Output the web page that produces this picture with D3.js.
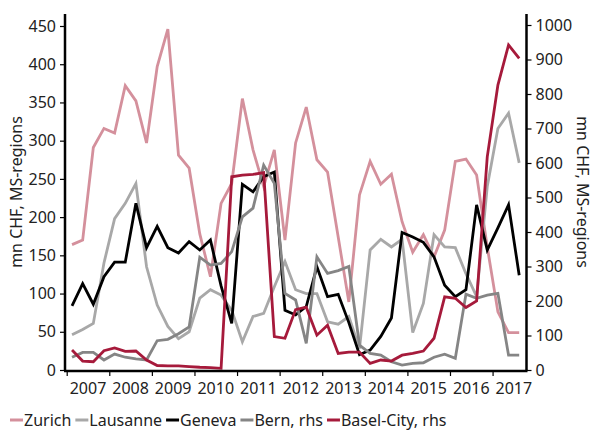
<!DOCTYPE html>
<html>
<head>
<meta charset="utf-8">
<script src="https://cdn.jsdelivr.net/npm/d3@7"></script>
<style>
  body { margin: 0; background: #fff; }
  svg text { font-family: "Noto Sans", sans-serif; font-size: 16px; fill: #222; }
</style>
</head>
<body>
<div id="chart"></div>
<script>
  // quarterly data, 2007Q1 .. 2017Q3
  var startYear = 2007;
  var zurich = [164, 170, 291, 316, 310, 372, 352, 297, 397, 446, 281, 264, 178, 122, 218, 244,
    355, 288, 240, 288, 170, 297, 344, 275, 259, 174, 89, 229, 273, 243, 256, 194,
    154, 177, 148, 183, 273, 276, 255, 161, 76, 49, 49];
  var lausanne = [46, 53, 61, 140, 198, 218, 244, 135, 85, 57, 41, 50, 94, 105, 98, 78,
    37, 70, 74, 109, 142, 105, 100, 100, 63, 60, 70, 28, 157, 171, 161, 171,
    49, 87, 177, 161, 160, 126, 96, 240, 316, 336, 271];
  var geneva = [84, 113, 86, 122, 141, 141, 218, 160, 188, 160, 153, 168, 157, 170, 110, 61,
    243, 233, 253, 259, 78, 72, 83, 135, 96, 99, 62, 20, 26, 44, 68, 180,
    174, 167, 148, 111, 96, 105, 216, 157, 186, 216, 124];
  // rhs
  var bern = [37, 51, 51, 29, 46, 37, 32, 29, 85, 89, 105, 125, 327, 304, 309, 343,
    444, 469, 594, 541, 222, 203, 77, 328, 280, 288, 300, 72, 48, 43, 24, 14,
    19, 21, 37, 46, 34, 220, 208, 217, 222, 43, 43];
  var basel = [58, 26, 24, 56, 64, 54, 55, 29, 13, 12, 12, 10, 8, 7, 5, 560,
    565, 567, 572, 97, 92, 175, 182, 101, 130, 48, 52, 52, 19, 29, 26, 43,
    48, 55, 92, 212, 208, 181, 200, 618, 826, 942, 903];

  var years = d3.range(2007, 2018);
  var leftTicks = d3.range(0, 451, 50);
  var rightTicks = d3.range(0, 1001, 100);

  var series = [
    {name: "Zurich", values: zurich, color: "#d4909c", rhs: false},
    {name: "Lausanne", values: lausanne, color: "#a8a8a8", rhs: false},
    {name: "Geneva", values: geneva, color: "#000000", rhs: false},
    {name: "Bern, rhs", values: bern, color: "#858585", rhs: true},
    {name: "Basel-City, rhs", values: basel, color: "#a61a3b", rhs: true}
  ];

  var width = 594, height = 430;
  var x0 = 65, x1 = 526.5, yBottom = 370;

  var svg = d3.select("#chart").append("svg")
    .attr("width", width)
    .attr("height", height);

  var x = d3.scaleLinear().domain([2007, 2017.82]).range([66.7, 527.5]);
  var yL = d3.scaleLinear().domain([0, 450]).range([yBottom, 26]);
  var yR = d3.scaleLinear().domain([0, 1000]).range([yBottom, 25]);

  function qx(i) { return x(startYear + (i + 0.5) / 4); }

  // lines
  series.forEach(function(s) {
    var yy = s.rhs ? yR : yL;
    var line = d3.line()
      .x(function(d, i) { return qx(i); })
      .y(function(d) { return yy(d); });
    svg.append("path")
      .datum(s.values)
      .attr("d", line)
      .attr("fill", "none")
      .attr("stroke", s.color)
      .attr("stroke-width", 2.8)
      .attr("stroke-linejoin", "miter");
  });

  // left axis
  var gl = svg.append("g").attr("transform", "translate(" + x0 + ",0)");
  gl.call(d3.axisLeft(yL).tickValues(leftTicks).tickSize(5).tickPadding(4));
  gl.select(".domain").remove();
  gl.append("line").attr("x1", 0).attr("x2", 0).attr("y1", 14).attr("y2", yBottom + 1)
    .attr("stroke", "#000").attr("stroke-width", 2.5);

  // right axis
  var gr = svg.append("g").attr("transform", "translate(" + x1 + ",0)");
  gr.call(d3.axisRight(yR).tickValues(rightTicks).tickFormat(d3.format("d")).tickSize(5).tickPadding(4));
  gr.select(".domain").remove();
  gr.append("line").attr("x1", 0).attr("x2", 0).attr("y1", 14).attr("y2", yBottom + 1)
    .attr("stroke", "#000").attr("stroke-width", 2.5);

  // bottom axis, ticks at year starts, labels centred in the year
  var gb = svg.append("g").attr("transform", "translate(0," + (yBottom + 1) + ")");
  gb.call(d3.axisBottom(x).tickValues(years).tickSize(5).tickFormat(""));
  gb.select(".domain").remove();
  gb.append("line").attr("x1", x0 - 1).attr("x2", x1 + 1).attr("y1", 0).attr("y2", 0)
    .attr("stroke", "#000").attr("stroke-width", 2.5);
  gb.selectAll(".yearlab").data(years).enter().append("text")
    .attr("x", function(d) { return x(d + 0.5); })
    .attr("y", 23)
    .attr("text-anchor", "middle")
    .text(function(d) { return d; });

  svg.selectAll(".tick line").attr("stroke", "#000").attr("stroke-width", 1.2);
  svg.selectAll(".tick text").style("font-size", "16px").attr("fill", "#222");

  // axis titles
  svg.append("text")
    .attr("transform", "translate(22,192) rotate(-90)")
    .attr("text-anchor", "middle")
    .text("mn CHF, MS-regions");
  svg.append("text")
    .attr("transform", "translate(577,192) rotate(90)")
    .attr("text-anchor", "middle")
    .text("mn CHF, MS-regions");

  // legend
  var lx = 10, ly = 420;
  series.forEach(function(s) {
    svg.append("line")
      .attr("x1", lx).attr("x2", lx + 13)
      .attr("y1", ly).attr("y2", ly)
      .attr("stroke", s.color).attr("stroke-width", 3);
    var t = svg.append("text")
      .attr("x", lx + 14).attr("y", ly + 6)
      .text(s.name);
    lx = lx + 14 + t.node().getComputedTextLength() + 4;
  });
</script>
</body>
</html>
